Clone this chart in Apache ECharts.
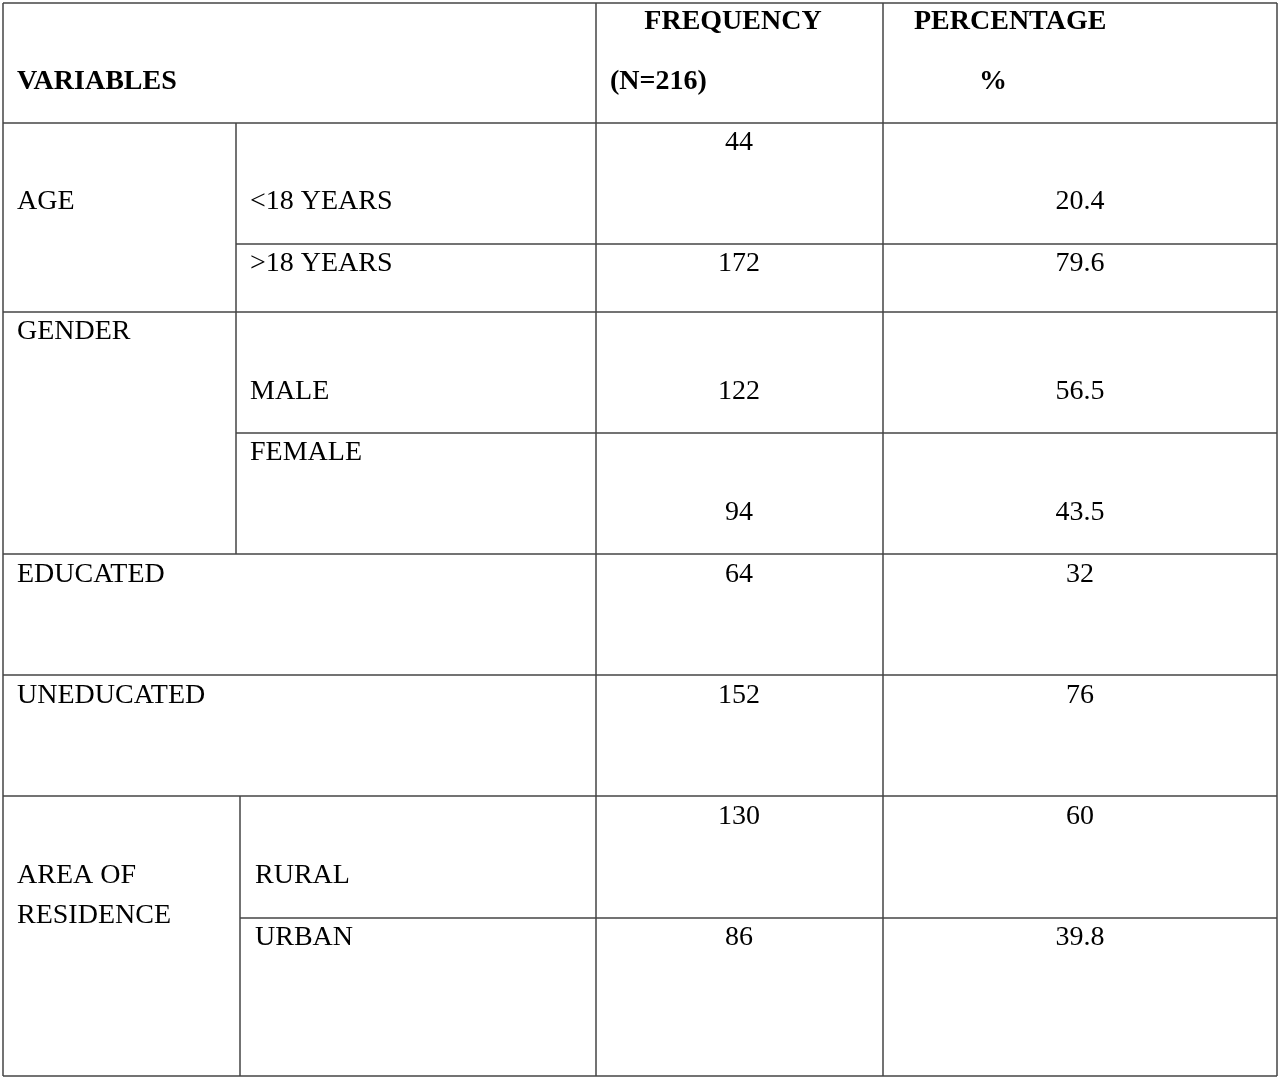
<!DOCTYPE html>
<html><head><meta charset="utf-8">
<script src="https://cdn.jsdelivr.net/npm/echarts@6/dist/echarts.min.js"></script>
<style>html,body{margin:0;padding:0;background:#fff}#c{width:1280px;height:1080px}</style>
</head><body><div id="c"></div>
<script>
// ---- data ----
var headers = ['VARIABLES', 'FREQUENCY', '(N=216)', 'PERCENTAGE', '%'];
var groups = ['AGE', 'GENDER', 'EDUCATED', 'UNEDUCATED', 'AREA OF\nRESIDENCE'];
var subCategories = ['<18 YEARS', '>18 YEARS', 'MALE', 'FEMALE', 'RURAL', 'URBAN'];
var frequency = [44, 172, 122, 94, 64, 152, 130, 86];
var percentage = ['20.4', '79.6', '56.5', '43.5', '32', '76', '60', '39.8'];

// ---- layout ----
var font = '"Liberation Serif", "DejaVu Serif", serif';
var fs = 28, col = '#000';
var g = [];
function line(x1, y1, x2, y2) {
  g.push({type: 'line', shape: {x1: x1, y1: y1, x2: x2, y2: y2}, style: {stroke: '#444', lineWidth: 1.5}});
}
function text(t, x, y, align, bold) {
  g.push({type: 'text', x: x, y: y, style: {text: String(t), font: (bold ? 'bold ' : '') + fs + 'px ' + font,
    fill: col, textAlign: align || 'left', textVerticalAlign: 'middle', lineHeight: 40}});
}
// outer + horizontal lines
var L = 3, R = 1277;
[3, 123, 554, 675, 796, 1076].forEach(function (y) { line(L, y, R, y); });
line(236, 244, R, 244); line(L, 312, R, 312); line(236, 433, R, 433); line(240, 918, R, 918);
line(L, 3, L, 1076); line(R, 3, R, 1076);
line(596, 3, 596, 1076); line(883, 3, 883, 1076);
line(236, 123, 236, 554); line(240, 796, 240, 1076);

// headers
text(headers[0], 17, 82, 'left', true);
text(headers[1], 733, 22, 'center', true);
text(headers[2], 610, 82, 'left', true);
text(headers[3], 914, 22, 'left', true);
text(headers[4], 993, 82, 'center', true);

// groups
text(groups[0], 17, 202); text(groups[1], 17, 332); text(groups[2], 17, 575);
text(groups[3], 17, 696); text(groups[4], 17, 896);
// sub categories
var subPos = [[250, 202], [250, 264], [250, 392], [250, 453], [255, 876], [255, 938]];
subCategories.forEach(function (s, i) { text(s, subPos[i][0], subPos[i][1]); });
// values
var fy = [143, 264, 392, 513, 575, 696, 817, 938];
var py = [202, 264, 392, 513, 575, 696, 817, 938];
frequency.forEach(function (v, i) { text(v, 739, fy[i], 'center'); });
percentage.forEach(function (v, i) { text(v, 1080, py[i], 'center'); });

var chart = echarts.init(document.getElementById('c'));
chart.setOption({backgroundColor: '#fff', graphic: {elements: g}});
</script></body></html>
